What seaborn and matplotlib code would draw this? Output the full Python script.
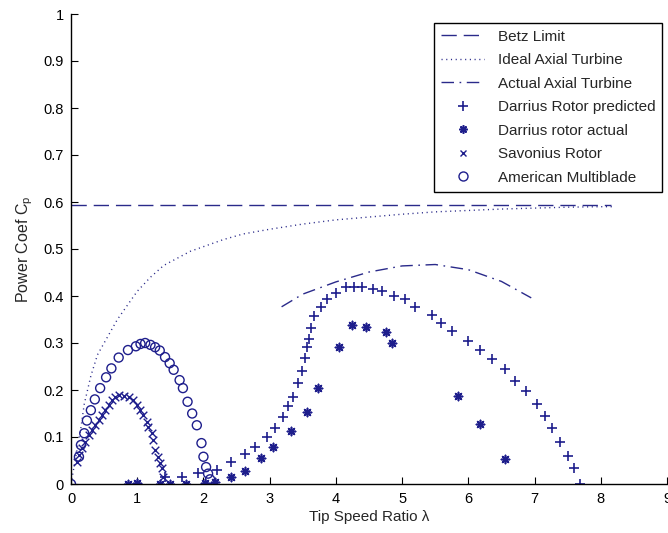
import numpy as np
import pandas as pd
import matplotlib
matplotlib.use("Agg")
import matplotlib.pyplot as plt
from matplotlib.lines import Line2D
import seaborn as sns

# ---------------- data ----------------
betz_tsr = [0.0, 8.16]
betz_cp = [0.593, 0.593]

ideal_tsr = [0, 0.05, 0.1, 0.15, 0.2, 0.3, 0.4, 0.5, 0.6, 0.7, 0.8, 0.9, 1.0, 1.2, 1.4,
             1.6, 1.8, 2.0, 2.3, 2.6, 3.0, 3.5, 4.0, 4.5, 5.0, 5.5, 6.0, 6.5, 7.0, 7.5, 8.0, 8.2]
ideal_cp = [0, 0.04, 0.08, 0.12, 0.17, 0.23, 0.275, 0.30, 0.325, 0.35, 0.37, 0.39, 0.41, 0.44, 0.465,
            0.48, 0.495, 0.505, 0.52, 0.532, 0.542, 0.553, 0.562, 0.568, 0.574, 0.579, 0.582, 0.585,
            0.587, 0.589, 0.590, 0.590]

actual_tsr = [3.18, 3.5, 4.0, 4.5, 5.0, 5.5, 6.0, 6.5, 6.95]
actual_cp = [0.377, 0.404, 0.43, 0.451, 0.464, 0.467, 0.456, 0.431, 0.396]

darr_pred_tsr = [1.42, 1.67, 1.92, 2.2, 2.42, 2.62, 2.78, 2.96, 3.08, 3.2, 3.27, 3.35, 3.43, 3.49,
                 3.53, 3.57, 3.59, 3.62, 3.67, 3.77, 3.86, 4.0, 4.16, 4.28, 4.39, 4.56, 4.69, 4.87,
                 5.04, 5.2, 5.45, 5.58, 5.76, 5.99, 6.17, 6.35, 6.56, 6.71, 6.87, 7.03, 7.16, 7.27,
                 7.39, 7.51, 7.59, 7.69]
darr_pred_cp = [0.015, 0.015, 0.023, 0.03, 0.047, 0.064, 0.079, 0.099, 0.12, 0.142, 0.165, 0.185,
                0.215, 0.24, 0.268, 0.291, 0.308, 0.332, 0.357, 0.376, 0.394, 0.407, 0.419, 0.419,
                0.419, 0.415, 0.411, 0.40, 0.393, 0.376, 0.36, 0.342, 0.326, 0.304, 0.285, 0.266,
                0.245, 0.219, 0.198, 0.17, 0.145, 0.119, 0.089, 0.06, 0.034, 0.0]

darr_act_tsr = [0.86, 0.99, 1.34, 1.5, 1.74, 2.02, 2.17, 2.42, 2.63, 2.87, 3.05, 3.32, 3.56, 3.73,
                4.04, 4.25, 4.46, 4.75, 4.84, 5.85, 6.17, 6.56]
darr_act_cp = [0, 0.002, 0, 0, 0, 0.002, 0.005, 0.015, 0.027, 0.055, 0.079, 0.113, 0.153, 0.204,
               0.291, 0.338, 0.334, 0.323, 0.30, 0.187, 0.128, 0.053]

savo_tsr = [0.09, 0.12, 0.17, 0.21, 0.27, 0.32, 0.36, 0.42, 0.47, 0.51, 0.57, 0.62, 0.66, 0.72,
            0.8, 0.87, 0.94, 0.99, 1.04, 1.09, 1.15, 1.17, 1.22, 1.24, 1.27, 1.31, 1.34, 1.37, 1.39]
savo_cp = [0.047, 0.062, 0.077, 0.09, 0.104, 0.115, 0.126, 0.136, 0.147, 0.157, 0.168, 0.179,
           0.185, 0.189, 0.187, 0.185, 0.179, 0.168, 0.157, 0.147, 0.132, 0.121, 0.108, 0.094,
           0.072, 0.057, 0.045, 0.034, 0.015]

multi_tsr = [0, 0.12, 0.15, 0.2, 0.24, 0.3, 0.36, 0.44, 0.53, 0.61, 0.72, 0.86, 0.98, 1.05, 1.12,
             1.2, 1.27, 1.34, 1.42, 1.49, 1.55, 1.64, 1.69, 1.76, 1.83, 1.9, 1.97, 2.0, 2.04,
             2.07, 2.1]
multi_cp = [0, 0.058, 0.083, 0.108, 0.135, 0.157, 0.18, 0.204, 0.227, 0.246, 0.269, 0.285, 0.293,
            0.298, 0.3, 0.296, 0.291, 0.284, 0.27, 0.257, 0.243, 0.221, 0.204, 0.175, 0.15,
            0.125, 0.087, 0.058, 0.036, 0.022, 0.01]

labels = ["Betz Limit", "Ideal Axial Turbine", "Actual Axial Turbine",
          "Darrius Rotor predicted", "Darrius rotor actual", "Savonius Rotor",
          "American Multiblade"]
x_ticks = [0, 1, 2, 3, 4, 5, 6, 7, 8, 9]
y_ticks = [0, 0.1, 0.2, 0.3, 0.4, 0.5, 0.6, 0.7, 0.8, 0.9, 1]
y_ticklabels = ["0", "0.1", "0.2", "0.3", "0.4", "0.5", "0.6", "0.7", "0.8", "0.9", "1"]

# ---------------- style ----------------
sns.set_style("ticks")
plt.rcParams['font.family'] = ['Liberation Sans', 'DejaVu Sans']
plt.rcParams['xtick.direction'] = 'in'
plt.rcParams['ytick.direction'] = 'in'

C = "#1e1e8c"
CL = "#2a2a8a"
fig = plt.figure(figsize=(6.68, 5.33), dpi=100)
ax = fig.add_axes([71 / 668, 49 / 533, 596 / 668, 470 / 533])

betz_ls = (0, (11, 5))
ideal_ls = (0, (0.8, 2.6))
actual_ls = (0, (9, 4, 1.2, 4))

sns.lineplot(x=betz_tsr, y=betz_cp, ax=ax, color=CL, lw=1.0, linestyle=betz_ls,
             sort=False, estimator=None)
sns.lineplot(x=ideal_tsr, y=ideal_cp, ax=ax, color=CL, lw=1.0, linestyle=ideal_ls,
             sort=False, estimator=None)
sns.lineplot(x=actual_tsr, y=actual_cp, ax=ax, color=CL, lw=1.0, linestyle=actual_ls,
             sort=False, estimator=None)

sns.scatterplot(x=darr_pred_tsr, y=darr_pred_cp, ax=ax, marker="+", s=55, color=C,
                linewidth=1.2)
star = (8, 2, 0)
sns.scatterplot(x=darr_act_tsr, y=darr_act_cp, ax=ax, marker=star, s=34, color=C,
                linewidth=1.2)
sns.scatterplot(x=savo_tsr, y=savo_cp, ax=ax, marker="x", s=30, color=C, linewidth=1.0)
sns.scatterplot(x=multi_tsr, y=multi_cp, ax=ax, marker="o", s=42, facecolors="none",
                edgecolor=C, linewidth=1.0)

ax.set_xlim(0, 9)
ax.set_ylim(0, 1)
ax.set_xticks(x_ticks)
ax.set_xticklabels([str(t) for t in x_ticks])
ax.set_yticks(y_ticks)
ax.set_yticklabels(y_ticklabels)
ax.tick_params(labelsize=10.5, length=5, width=0.8, colors="black")
ax.tick_params(axis="x", pad=6)
ax.tick_params(axis="y", pad=5)
sns.despine(ax=ax, top=True, right=True)
for sp in ["left", "bottom"]:
    ax.spines[sp].set_linewidth(1.0)
    ax.spines[sp].set_color("black")

ax.set_xlabel("Tip Speed Ratio \u03bb", fontsize=11, labelpad=3)
ax.set_ylabel("Power Coef C$_\\mathregular{p}$", fontsize=11.5, labelpad=6)

handles = [
    Line2D([], [], color=CL, lw=1.0, linestyle=betz_ls),
    Line2D([], [], color=CL, lw=1.0, linestyle=ideal_ls),
    Line2D([], [], color=CL, lw=1.0, linestyle=actual_ls),
    Line2D([], [], color=C, lw=0, marker="+", markersize=7.5, markeredgewidth=1.2),
    Line2D([], [], color=C, lw=0, marker=star, markersize=6, markeredgewidth=1.2),
    Line2D([], [], color=C, lw=0, marker="x", markersize=5, markeredgewidth=1.0),
    Line2D([], [], color=C, lw=0, marker="o", markersize=6.5, markerfacecolor="none",
           markeredgewidth=1.0),
]
leg = ax.legend(handles, labels, loc="upper right", bbox_to_anchor=(0.992, 0.981),
                fontsize=11, frameon=True, fancybox=False, framealpha=1,
                edgecolor="black", handlelength=2.8, labelspacing=0.62,
                borderpad=0.45, handletextpad=0.9, borderaxespad=0)
leg.get_frame().set_linewidth(1.0)

fig.savefig("out.png", dpi=100)
